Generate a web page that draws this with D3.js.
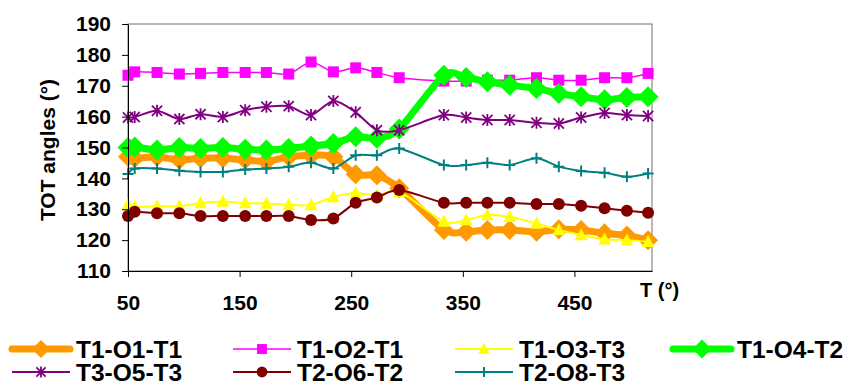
<!DOCTYPE html>
<html>
<head>
<meta charset="utf-8">
<script src="https://cdn.jsdelivr.net/npm/d3@7"></script>
<style>
  body { margin: 0; background: #fff; }
  svg { display: block; font-family: "Liberation Sans", Arial, sans-serif; }
</style>
</head>
<body>
<div id="container"></div>
<script>
// temperatures (x) and the TOT angles of each series
const temps = [50, 56, 76, 96, 115, 135, 155, 174, 194, 214, 234, 254, 273, 293, 333, 353, 372, 392, 416, 436, 456, 477, 497, 516];
const t1o1t1 = [147, 146.5, 147, 146, 146.5, 146.5, 146, 145.5, 147, 147.5, 147, 141.3, 141, 136.8, 123.3, 122.7, 123.3, 123.3, 122.7, 123.5, 123.3, 122.2, 121.5, 120];
const t1o2t1 = [173.4, 174.5, 174.3, 173.8, 174, 174.3, 174.3, 174.3, 173.8, 177.7, 174.5, 175.8, 174.3, 172.6, 171.5, 171.5, 171.8, 171.8, 172.6, 171.8, 171.8, 172.6, 172.6, 174];
const t1o3t3 = [131.5, 130.8, 131, 131, 132, 132.5, 132, 131.9, 131.4, 131.4, 134, 135.3, 134.5, 135.7, 126, 126.5, 128.1, 127.6, 125.4, 123.3, 121.7, 120.3, 120, 119.5];
const t1o4t2 = [150, 150.2, 149.2, 150, 149.7, 150, 149.4, 149.2, 149.7, 150.5, 151.3, 153.5, 153, 156, 173.4, 172.7, 171.3, 170.2, 169.1, 167.5, 166.4, 165.5, 166.2, 166.4];
const t3o5t3 = [159.7, 159.9, 161.9, 159.2, 160.8, 159.9, 162.1, 163.2, 163.4, 160.5, 165.1, 161.4, 155.6, 155.6, 160.5, 159.7, 158.9, 158.9, 158, 157.8, 159.7, 161.2, 160.5, 160.2];
const t2o6t2 = [127.8, 129.2, 128.7, 128.7, 127.8, 127.8, 127.8, 127.8, 127.8, 126.5, 127, 132.1, 133.8, 136.2, 132.1, 132.1, 132.1, 132.1, 131.7, 131.7, 131.1, 130.3, 129.5, 128.9];
const t2o8t3 = [141.4, 143.2, 143.2, 142.5, 142.1, 142.1, 142.9, 143.2, 143.8, 145.1, 143.2, 147.5, 147.5, 149.7, 144.3, 144.3, 145.1, 144.3, 146.5, 143.8, 142.4, 141.8, 140.5, 141.6];

const seriesNames = ["T1-O1-T1", "T1-O2-T1", "T1-O3-T3", "T1-O4-T2", "T3-O5-T3", "T2-O6-T2", "T2-O8-T3"];
const seriesValues = [t1o1t1, t1o2t1, t1o3t3, t1o4t2, t3o5t3, t2o6t2, t2o8t3];
const xTicks = [50, 150, 250, 350, 450];
const yTicks = [110, 120, 130, 140, 150, 160, 170, 180, 190];

const width = 849, height = 385;
const margin = {top: 24, right: 197, bottom: 114, left: 128};

// look of each series: colour, line width, marker
const styles = [
    {color: "#ff9900", width: 7, marker: "diamond", size: 10},
    {color: "#ff00ff", width: 1.5, marker: "square", size: 5.5},
    {color: "#ffff00", width: 2, marker: "triangle", size: 7},
    {color: "#00ff00", width: 7, marker: "diamond", size: 10.5},
    {color: "#800080", width: 2, marker: "star", size: 6},
    {color: "#800000", width: 2, marker: "circle", size: 6},
    {color: "#008080", width: 2, marker: "plus", size: 5.5}
];

const x = d3.scaleLinear()
    .domain([50, 519.5])
    .range([margin.left, width - margin.right]);

const y = d3.scaleLinear()
    .domain([110, 190])
    .range([height - margin.bottom, margin.top]);

const svg = d3.create("svg")
    .attr("width", width)
    .attr("height", height);

// plot frame (top and right edges are grey)
svg.append("rect")
    .attr("x", margin.left)
    .attr("y", margin.top)
    .attr("width", width - margin.right - margin.left)
    .attr("height", height - margin.bottom - margin.top)
    .attr("fill", "none")
    .attr("stroke", "#707070")
    .attr("stroke-width", 1);

function drawMarker(g, type, cx, cy, s, color) {
    if (type == "diamond") {
        g.append("path")
            .attr("d", `M${cx},${cy - s}L${cx + s},${cy}L${cx},${cy + s}L${cx - s},${cy}Z`)
            .attr("fill", color);
    } else if (type == "square") {
        g.append("rect")
            .attr("x", cx - s).attr("y", cy - s)
            .attr("width", 2 * s).attr("height", 2 * s)
            .attr("fill", color);
    } else if (type == "triangle") {
        g.append("path")
            .attr("d", `M${cx},${cy - s}L${cx + s * 0.9},${cy + s * 0.75}L${cx - s * 0.9},${cy + s * 0.75}Z`)
            .attr("fill", color);
    } else if (type == "circle") {
        g.append("circle")
            .attr("cx", cx).attr("cy", cy).attr("r", s)
            .attr("fill", color);
    } else if (type == "star") {
        const d = s * 0.85;
        g.append("path")
            .attr("d", `M${cx},${cy - s}V${cy + s}M${cx - d},${cy - d}L${cx + d},${cy + d}M${cx - d},${cy + d}L${cx + d},${cy - d}`)
            .attr("stroke", color)
            .attr("stroke-width", 1.8)
            .attr("fill", "none");
    } else if (type == "plus") {
        g.append("path")
            .attr("d", `M${cx},${cy - s}V${cy + s}M${cx - s},${cy}H${cx + s}`)
            .attr("stroke", color)
            .attr("stroke-width", 2)
            .attr("fill", "none");
    }
}

const line = d3.line()
    .x(function(d) { return x(d[0]) })
    .y(function(d) { return y(d[1]) })
    .curve(d3.curveCardinal.tension(0.2));

seriesValues.forEach((vals, i) => {
    const st = styles[i];
    const pts = temps.map((t, j) => [t, vals[j]]);
    const g = svg.append("g");
    g.append("path")
        .datum(pts)
        .attr("fill", "none")
        .attr("stroke", st.color)
        .attr("stroke-width", st.width)
        .attr("stroke-linejoin", "round")
        .attr("d", line);
    pts.forEach(p => drawMarker(g, st.marker, x(p[0]), y(p[1]), st.size, st.color));
});

// axes
const yAxis = svg.append("g")
    .attr("transform", `translate(${margin.left}, 0)`)
    .call(d3.axisLeft(y).tickValues(yTicks).tickSize(6).tickSizeOuter(0).tickPadding(11));

const xAxis = svg.append("g")
    .attr("transform", `translate(0, ${height - margin.bottom})`)
    .call(d3.axisBottom(x).tickValues(xTicks).tickSize(6).tickSizeOuter(0).tickPadding(18));

[yAxis, xAxis].forEach(a => {
    a.select(".domain").attr("stroke", "#000");
    a.selectAll(".tick line").attr("stroke", "#000");
    a.selectAll("text")
        .attr("font-size", "21px")
        .attr("font-weight", "bold")
        .attr("font-family", "Liberation Sans, Arial, sans-serif")
        .attr("fill", "#000");
});

svg.append("text")
    .attr("text-anchor", "middle")
    .attr("transform", "translate(55, 150) rotate(-90)")
    .attr("font-size", "21px")
    .attr("font-weight", "bold")
    .text("TOT angles (°)");

svg.append("text")
    .attr("x", 640)
    .attr("y", 297)
    .attr("font-size", "20px")
    .attr("font-weight", "bold")
    .text("T (°)");

// legend
const legendX = [12, 233, 455, 673];
const legendY = [349, 372];
seriesNames.forEach((name, i) => {
    const st = styles[i];
    const row = i < 4 ? 0 : 1;
    const col = i < 4 ? i : i - 4;
    const lx = legendX[col], ly = legendY[row];
    const g = svg.append("g");
    g.append("line")
        .attr("x1", lx).attr("x2", lx + 58)
        .attr("y1", ly).attr("y2", ly)
        .attr("stroke", st.color)
        .attr("stroke-width", st.width)
        .attr("stroke-linecap", st.width > 3 ? "round" : "butt");
    drawMarker(g, st.marker, lx + 29, ly, st.size * 0.9, st.color);
    svg.append("text")
        .attr("x", lx + 64)
        .attr("y", ly)
        .attr("dy", "0.35em")
        .attr("font-size", "24.5px")
        .attr("font-weight", "bold")
        .text(name);
});

document.getElementById("container").append(svg.node());
</script>
</body>
</html>
